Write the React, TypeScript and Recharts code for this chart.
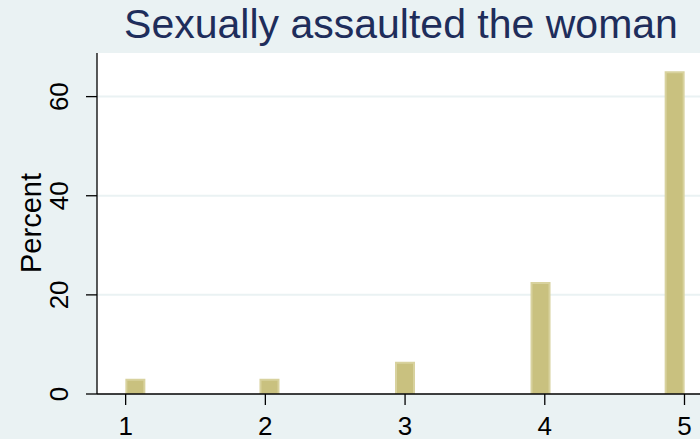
import { Bar, BarChart, CartesianGrid, XAxis, YAxis } from 'recharts'

// histogram bins (midpoints) and their share of responses
const binCenters = [1.07, 2.03, 3.0, 3.97, 4.93]
const percents = [2.9, 2.9, 6.3, 22.4, 64.9]
const xTicks = [1, 2, 3, 4, 5]
const yTicks = [0, 20, 40, 60]
const title = 'Sexually assaulted the woman'
const yLabel = 'Percent'

const data = binCenters.map((x, i) => ({ x, pct: percents[i] }))

const FONT = '"Liberation Sans", Arial, Helvetica, sans-serif'

function YTick(props: any) {
  const { x, y, payload } = props
  return (
    <text
      x={x - 16}
      y={y}
      transform={`rotate(-90, ${x - 16}, ${y})`}
      textAnchor="middle"
      fontSize={26}
      fontFamily={FONT}
      fill="#000"
    >
      {payload.value}
    </text>
  )
}

function XTick(props: any) {
  const { x, y, payload } = props
  return (
    <text x={x} y={y + 28} textAnchor="middle" fontSize={26} fontFamily={FONT} fill="#000">
      {payload.value}
    </text>
  )
}

export default function App() {
  return (
    <div
      style={{
        position: 'absolute',
        left: 0,
        top: 0,
        width: 700,
        height: 439,
        background: '#eaf2f3',
        fontFamily: FONT,
      }}
    >
      <svg width={700} height={439} style={{ position: 'absolute', left: 0, top: 0 }}>
        <text x={401} y={38} textAnchor="middle" fontSize={41} fontFamily={FONT} fill="#1e2d5b">
          {title}
        </text>
        <text
          x={41}
          y={223}
          transform="rotate(-90, 41, 223)"
          textAnchor="middle"
          fontSize={29}
          fontFamily={FONT}
          fill="#000"
        >
          {yLabel}
        </text>
      </svg>
      <div style={{ position: 'absolute', left: 0, top: 0 }}>
        <BarChart
          width={700}
          height={439}
          data={data}
          margin={{ top: 53, right: 0, left: 0, bottom: 0 }}
          barSize={18}
        >
          <CartesianGrid
            vertical={false}
            fill="#ffffff"
            stroke="#eaf2f3"
            strokeWidth={2}
            horizontalValues={[20, 40, 60]}
          />
          <XAxis
            type="number"
            dataKey="x"
            domain={[0.795, 5.111]}
            allowDataOverflow
            ticks={xTicks}
            interval={0}
            height={45}
            tickSize={11}
            stroke="#000"
            strokeWidth={1.3}
            tick={<XTick />}
          />
          <YAxis
            type="number"
            domain={[0, 68.8]}
            allowDataOverflow
            ticks={yTicks}
            interval={0}
            width={97}
            tickSize={11}
            stroke="#000"
            strokeWidth={1.3}
            tick={<YTick />}
          />
          <Bar
            dataKey="pct"
            fill="#c9c17f"
            stroke="#d8d29e"
            strokeWidth={2}
            isAnimationActive={false}
          />
        </BarChart>
      </div>
    </div>
  )
}
